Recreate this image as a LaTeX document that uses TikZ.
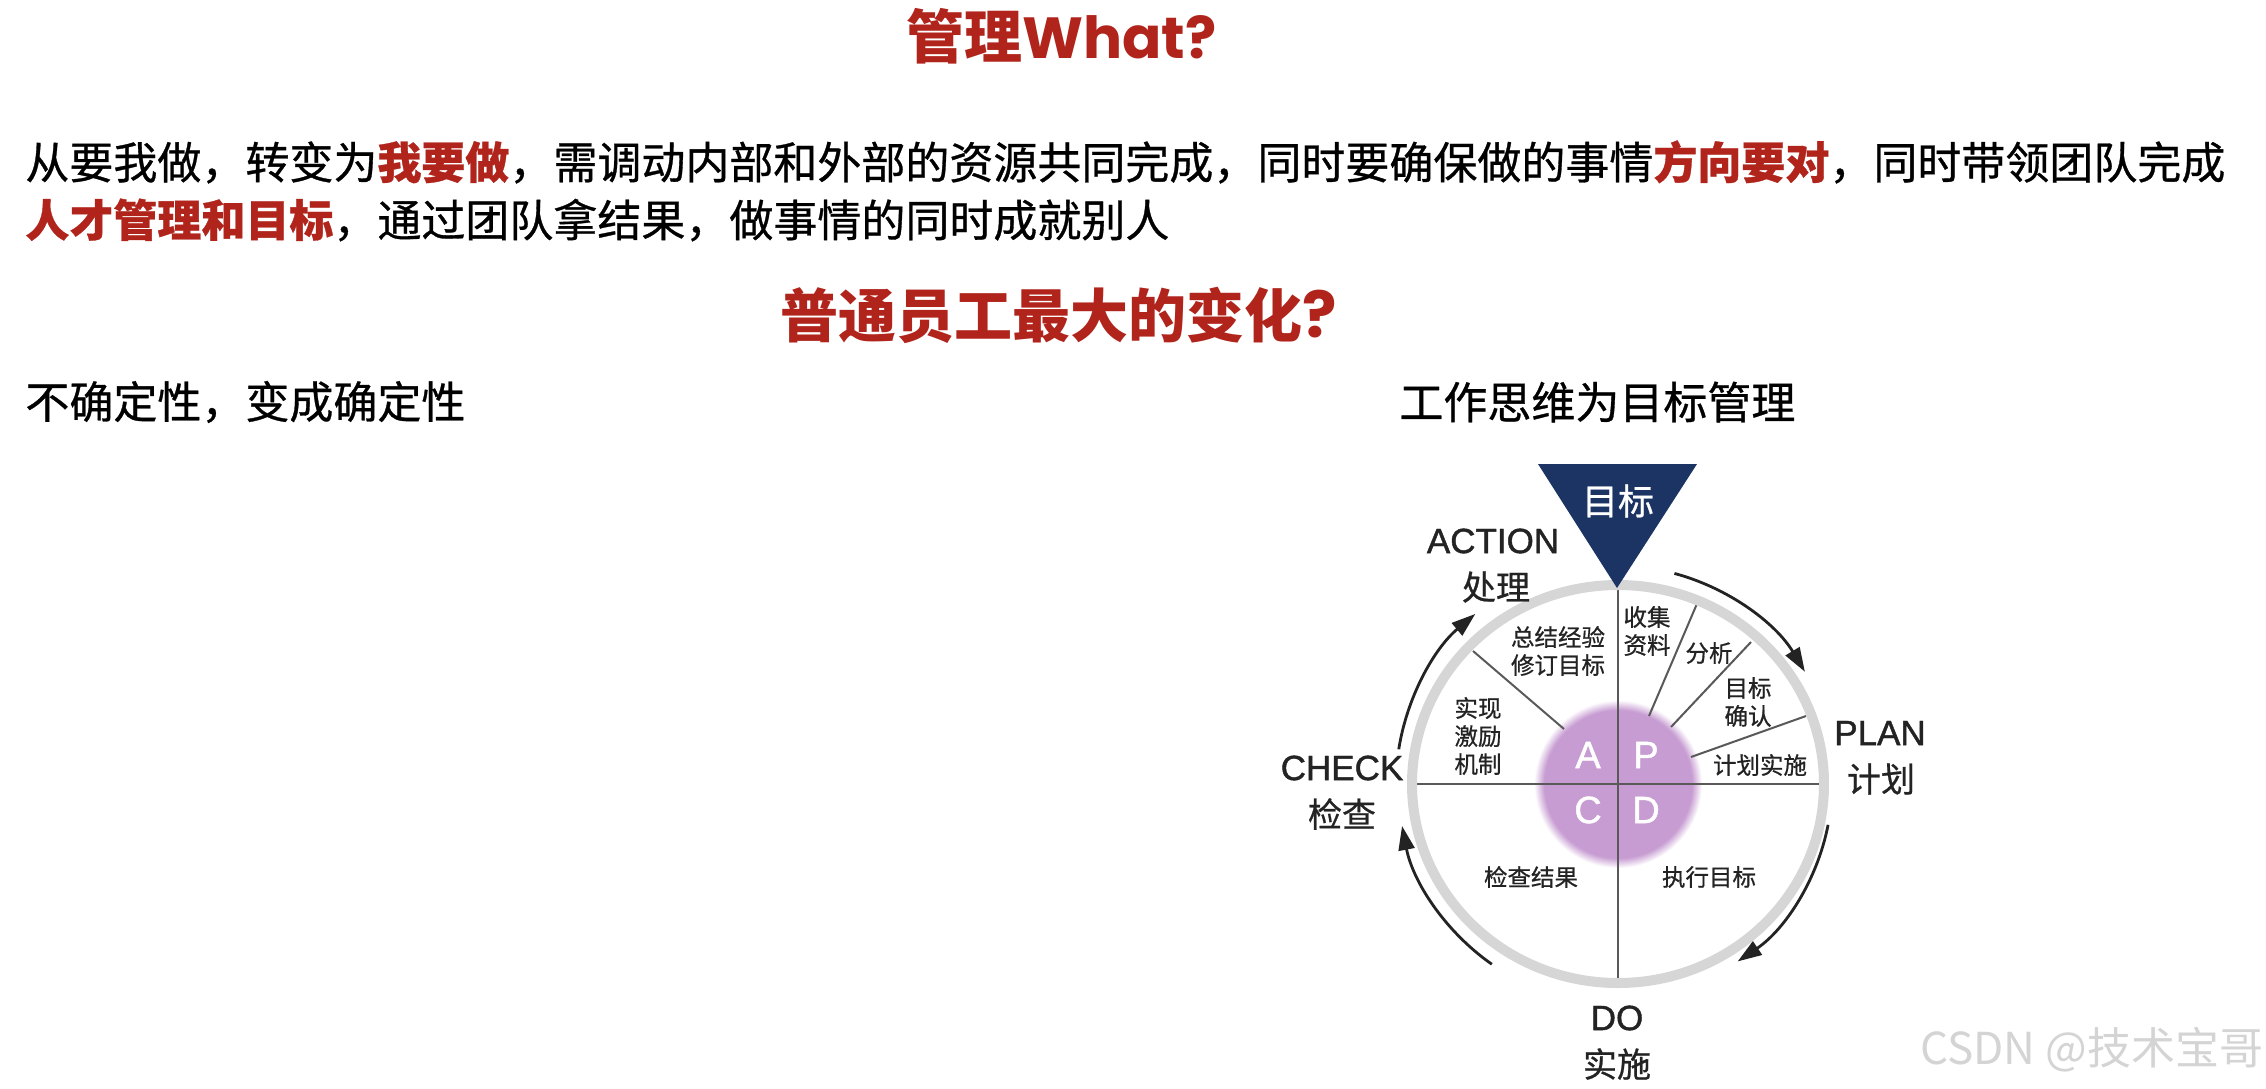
\documentclass[tikz,border=0pt]{standalone}
\usepackage{fontspec}
\setmainfont{Noto Sans CJK SC}
\newfontfamily\bodyfont{Noto Sans CJK SC}[FakeBold=0.7]
\newfontfamily\popfont{Poppins}
\newfontfamily\arialfont{Liberation Sans}[FakeBold=1.2]
\usetikzlibrary{arrows.meta}
\definecolor{hred}{RGB}{176,36,27}
\definecolor{navy}{RGB}{27,52,100}
\definecolor{ink}{RGB}{35,35,35}
\definecolor{ringgray}{RGB}{214,214,214}
\pgfdeclareradialshading{lavfade}{\pgfpoint{0bp}{0bp}}{rgb(0bp)=(0.780,0.612,0.824);rgb(22bp)=(0.780,0.612,0.824);rgb(25bp)=(1,1,1);rgb(50bp)=(1,1,1)}
\newcommand{\redbf}[1]{{\color{hred}\bfseries #1}}
\tikzset{
  heading/.style={anchor=west,inner sep=0pt,text=hred,font=\fontsize{29}{34}\selectfont\bfseries},
  body/.style={anchor=west,inner sep=0pt,text=black,font=\bodyfont\fontsize{22}{26}\selectfont},
  quad/.style={inner sep=0pt,align=center,text=ink,font=\bodyfont\fontsize{11.75}{14}\selectfont},
  biglat/.style={inner sep=0pt,text=ink,font=\arialfont\fontsize{17.5}{20}\selectfont},
  bigcjk/.style={inner sep=0pt,text=ink,font=\bodyfont\fontsize{17}{20}\selectfont},
  letter/.style={inner sep=0pt,text=white,font=\arialfont\fontsize{19}{22}\selectfont},
  cyc/.style={draw=ink,line width=1.4pt,-{Triangle[length=12pt,width=8pt]}},
  divider/.style={draw=black!65,line width=1pt},
}
\begin{document}
\begin{tikzpicture}[x=0.5pt,y=0.5pt]
\fill[white] (0,0) rectangle (2266,-1088);
\useasboundingbox (0,0) rectangle (2266,-1088);

% headings and text
\node[heading] (t1) at (906,-36) {管理{\popfont What?}};
\node[body] (l1) at (25,-162) {从要我做，转变为\redbf{我要做}，需调动内部和外部的资源共同完成，同时要确保做的事情\redbf{方向要对}，同时带领团队完成};
\node[body] (l2) at (25,-220) {\redbf{人才管理和目标}，通过团队拿结果，做事情的同时成就别人};
\node[heading] (t2) at (780,-315) {普通员工最大的变化{\popfont\fontsize{32}{34}\selectfont ?}};
\node[body] (l3) at (25,-402) {不确定性，变成确定性};
\node[body] (l4) at (1399,-402) {工作思维为目标管理};

% diagram
\coordinate (C) at (1618,-784);
\draw[cyc] (C) ++(75:218) arc[start angle=75,end angle=31,radius=218];
\draw[cyc] (C) ++(-11:214) arc[start angle=-11,end angle=-56,radius=214];
\draw[cyc] (C) ++(235:220) arc[start angle=235,end angle=191,radius=220];
\draw[cyc] (C) ++(171:222) arc[start angle=171,end angle=130,radius=222];

\fill[white] (C) ellipse[x radius=203,y radius=196];
\shade[shading=lavfade] (C) circle (84);
\draw[divider] (1415,-784) -- (1821,-784);
\draw[divider] (1618,-588) -- (1618,-980);
\draw[divider] (1473,-651) -- (1564,-729);
\draw[divider] (1699,-599) -- (1649,-716);
\draw[divider] (1751,-642) -- (1671,-727);
\draw[divider] (1806,-716) -- (1691,-757);
\draw[draw=ringgray,line width=5pt] (C) ellipse[x radius=206,y radius=199];

\fill[navy] (1538,-464) -- (1697,-464) -- (1617,-588) -- cycle;
\node[inner sep=0pt,text=white,font=\bodyfont\fontsize{18}{20}\selectfont] (goal) at (1618,-501) {目标};

\node[letter] (A) at (1588,-755) {A};
\node[letter] (P) at (1646,-755) {P};
\node[letter] (Cc) at (1588,-810) {C};
\node[letter] (D) at (1646,-810) {D};

\node[quad] (q1) at (1558,-651) {总结经验\\修订目标};
\node[quad] (q2) at (1478,-736) {实现\\激励\\机制};
\node[quad] (q3) at (1647,-631) {收集\\资料};
\node[quad] (q4) at (1709,-653) {分析};
\node[quad] (q5) at (1748,-702) {目标\\确认};
\node[quad] (q6) at (1760,-765) {计划实施};
\node[quad] (q7) at (1531,-877) {检查结果};
\node[quad] (q8) at (1709,-877) {执行目标};

\node[biglat] (act) at (1493,-541) {ACTION};
\node[bigcjk] (actc) at (1496,-587) {处理};
\node[biglat] (plan) at (1880,-733) {PLAN};
\node[bigcjk] (planc) at (1881,-779) {计划};
\node[biglat] (chk) at (1342,-768) {CHECK};
\node[bigcjk] (chkc) at (1342,-814) {检查};
\node[biglat] (do) at (1617,-1018) {DO};
\node[bigcjk] (doc) at (1617,-1064) {实施};

\node[anchor=west,inner sep=0pt,text=black!17,font=\fontsize{22}{26}\selectfont] (wm) at (1920,-1050) {CSDN @技术宝哥};
\end{tikzpicture}
\end{document}
